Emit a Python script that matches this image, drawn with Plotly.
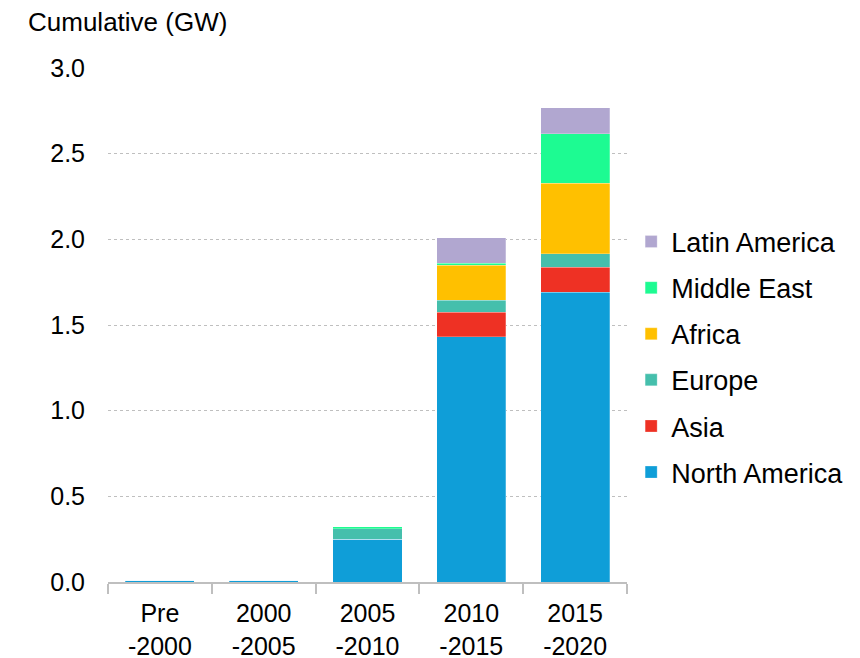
import plotly.graph_objects as go

categories = ["Pre<br>-2000", "2000<br>-2005", "2005<br>-2010", "2010<br>-2015", "2015<br>-2020"]
north_america = [0.01, 0.01, 0.25, 1.43, 1.69]
asia = [0.0, 0.0, 0.0, 0.145, 0.147]
europe = [0.0, 0.0, 0.06, 0.07, 0.08]
africa = [0.0, 0.0, 0.0, 0.205, 0.409]
middle_east = [0.0, 0.0, 0.012, 0.01, 0.29]
latin_america = [0.0, 0.0, 0.0, 0.148, 0.152]
y_ticks = [0.0, 0.5, 1.0, 1.5, 2.0, 2.5, 3.0]

series = [
    ("North America", north_america, "#0F9ED8"),
    ("Asia", asia, "#EE3124"),
    ("Europe", europe, "#45BFAC"),
    ("Africa", africa, "#FFC000"),
    ("Middle East", middle_east, "#1DFB92"),
    ("Latin America", latin_america, "#B1A7D0"),
]

fig = go.Figure()
n = len(series)
for i, (name, vals, color) in enumerate(series):
    fig.add_trace(go.Bar(
        x=categories, y=vals, name=name, legendgroup=name, legendrank=n - i,
        marker=dict(color=color, line=dict(color="rgba(255,255,255,0.5)", width=0.5)),
    ))

font = "Liberation Sans, Arial, sans-serif"
fig.update_layout(
    barmode="stack",
    bargap=0.335,
    width=860, height=658,
    margin=dict(l=100, r=241, t=60, b=84, autoexpand=False),
    plot_bgcolor="white", paper_bgcolor="white",
    font=dict(family=font, size=25, color="#000000"),
    legend=dict(
        x=1.008, xanchor="left", y=0.4377, yanchor="middle",
        traceorder="grouped", tracegroupgap=8,
        font=dict(size=27), itemwidth=30,
    ),
    annotations=[dict(
        text="Cumulative (GW)", xref="paper", yref="paper",
        x=-0.158, y=1.0, xanchor="left", yanchor="middle", yshift=46,
        showarrow=False, font=dict(size=26),
    )],
)
fig.update_yaxes(
    range=[0, 3.0], tickvals=y_ticks, tickformat=".1f",
    showgrid=True, gridcolor="#BFBFBF", griddash="dot", gridwidth=1,
    zeroline=False, showline=False, ticks="", ticklabelstandoff=22,
    automargin=False,
)
fig.update_xaxes(
    showline=True, linecolor="#BFBFBF", linewidth=2,
    ticks="outside", tickson="boundaries", ticklen=10, tickcolor="#BFBFBF", tickwidth=2,
    showgrid=False, ticklabelstandoff=8, automargin=False,
)
fig.write_html("out.html")
